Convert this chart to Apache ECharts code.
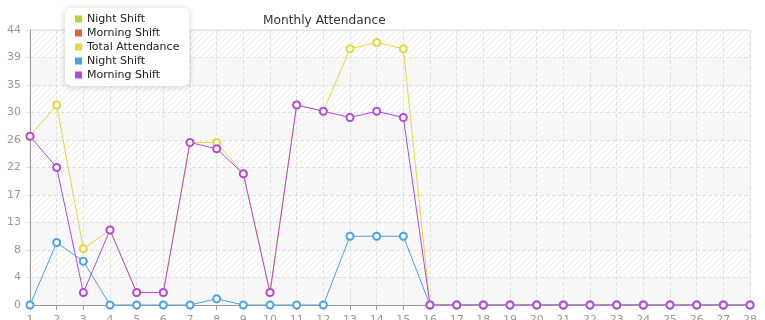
<!DOCTYPE html>
<html>
<head>
<meta charset="utf-8">
<script src="https://cdn.jsdelivr.net/npm/echarts@6/dist/echarts.min.js"></script>
<style>html,body{margin:0;padding:0;background:#fff;}#c{width:765px;height:320px;}</style>
</head>
<body>
<div id="c"></div>
<script>
var days = ['1','2','3','4','5','6','7','8','9','10','11','12','13','14','15','16','17','18','19','20','21','22','23','24','25','26','27','28'];
var totalAttendance = [27,32,9,12,2,2,26,26,21,2,32,31,41,42,41,0,0,0,0,0,0,0,0,0,0,0,0,0];
var nightShift = [0,10,7,0,0,0,0,1,0,0,0,0,11,11,11,0,0,0,0,0,0,0,0,0,0,0,0,0];
var morningShift = [27,22,2,12,2,2,26,25,21,2,32,31,30,31,30,0,0,0,0,0,0,0,0,0,0,0,0,0];
var nightShiftBars = [];
var morningShiftBars = [];
var yTickLabels = ['0','4','8','13','17','22','26','30','35','39','44'];

var pc = document.createElement('canvas');
pc.width = 6; pc.height = 6;
var g = pc.getContext('2d');
g.fillStyle = '#ffffff'; g.fillRect(0,0,6,6);
g.strokeStyle = '#ececec'; g.lineWidth = 1;
g.beginPath(); g.moveTo(0,6); g.lineTo(6,0); g.stroke();
g.beginPath(); g.moveTo(-1,1); g.lineTo(1,-1); g.stroke();
g.beginPath(); g.moveTo(5,7); g.lineTo(7,5); g.stroke();

var font = 'DejaVu Sans';
var chart = echarts.init(document.getElementById('c'));
function lineSeries(name, data, color) {
  return {name: name, type: 'line', data: data, symbol: 'emptyCircle', symbolSize: 7,
    itemStyle: {color: color, borderWidth: 1}, lineStyle: {width: 1, color: color},
    emphasis: {disabled: true}};
}
chart.setOption({
  animation: false,
  title: {text: 'Monthly Attendance', left: 258, top: 10, textStyle: {fontFamily: font, fontSize: 12.2, fontWeight: 'normal', color: '#333'}},
  legend: {orient: 'vertical', left: 65, top: 8, padding: [5, 10, 5, 10], itemGap: 2, itemWidth: 7, itemHeight: 7, icon: 'rect',
    backgroundColor: '#fff', borderRadius: 6, shadowBlur: 6, shadowColor: 'rgba(0,0,0,0.18)', shadowOffsetY: 1,
    textStyle: {fontFamily: font, fontSize: 11, color: '#222', lineHeight: 12},
    data: ['Night Shift', 'Morning Shift', 'Total Attendance', 'Night Shift\u200b', 'Morning Shift\u200b']},
  grid: {left: 30, right: 15, top: 30, bottom: 15, containLabel: false, outerBoundsMode: 'none',
    show: true, borderColor: '#e6e6e6', borderWidth: 1,
    backgroundColor: {image: pc, repeat: 'repeat'}},
  xAxis: {type: 'category', data: days, boundaryGap: false,
    axisLine: {lineStyle: {color: '#999'}}, axisTick: {show: true, length: 5, lineStyle: {color: '#999'}},
    axisLabel: {fontFamily: font, fontSize: 11, color: '#999', margin: 10},
    splitLine: {show: true, lineStyle: {type: 'dashed', color: '#e2e2e2'}}},
  yAxis: {type: 'value', min: 0, max: 44, interval: 4.4,
    axisLine: {show: true, lineStyle: {color: '#999'}}, axisTick: {show: true, length: 5, lineStyle: {color: '#e2e2e2', type: 'dashed'}},
    axisLabel: {fontFamily: font, fontSize: 11, color: '#999', margin: 9,
      formatter: function (v) { return yTickLabels[Math.round(v / 4.4)]; }},
    splitLine: {show: true, lineStyle: {type: 'dashed', color: '#e2e2e2'}},
    splitArea: {show: true, areaStyle: {color: ['rgba(247,247,247,0.85)', 'rgba(255,255,255,0)']}}},
  series: [
    {name: 'Night Shift', type: 'bar', data: nightShiftBars, itemStyle: {color: '#b5d62c'}},
    {name: 'Morning Shift', type: 'bar', data: morningShiftBars, itemStyle: {color: '#e0653a'}},
    lineSeries('Total Attendance', totalAttendance, '#e6d83c'),
    lineSeries('Night Shift\u200b', nightShift, '#4aa3e3'),
    lineSeries('Morning Shift\u200b', morningShift, '#b548e0')
  ]
});
</script>
</body>
</html>
